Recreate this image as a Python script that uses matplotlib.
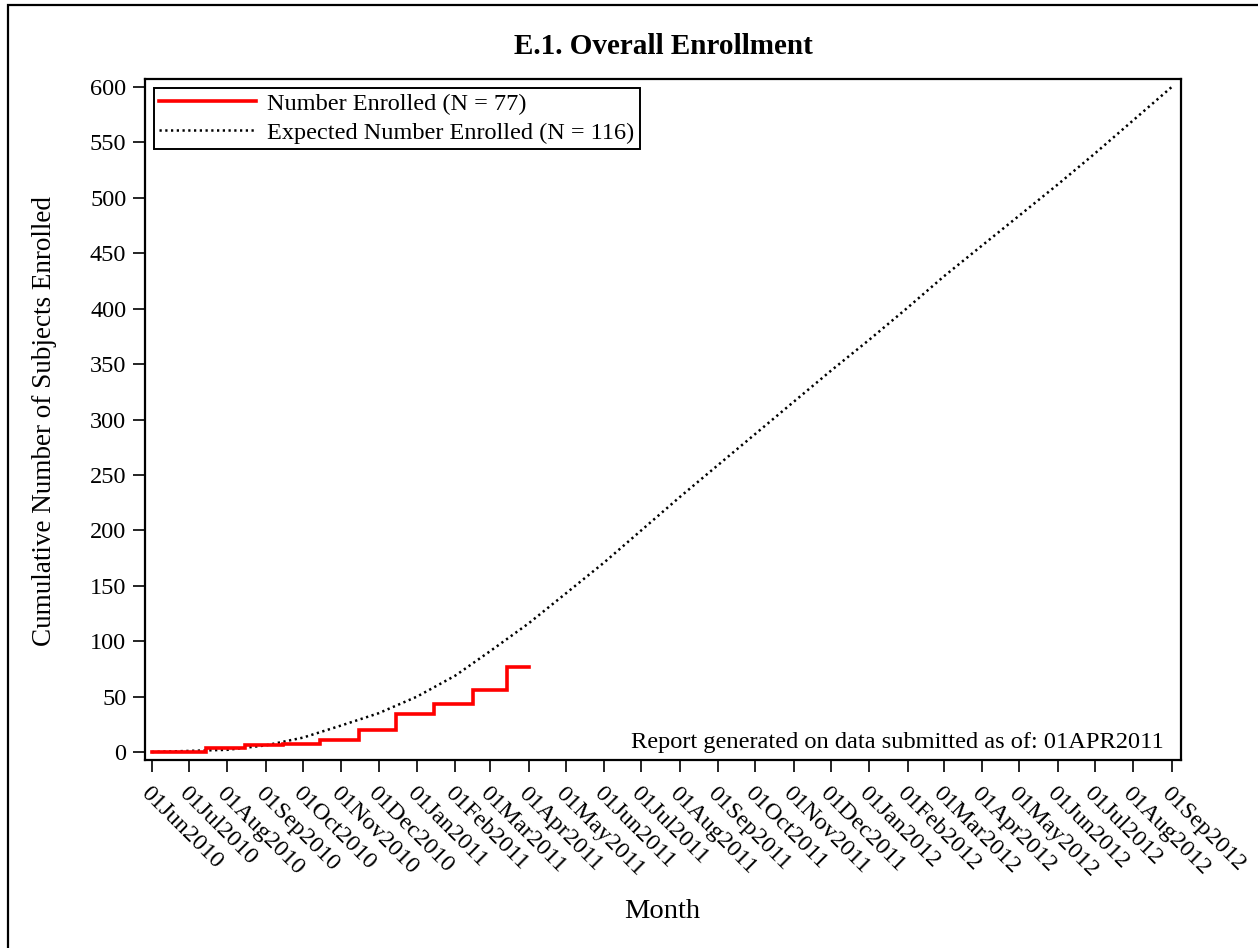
import datetime as dt
import matplotlib
matplotlib.use("Agg")
import matplotlib.pyplot as plt
import matplotlib.dates as mdates
from matplotlib.patches import Rectangle

plt.rcParams['font.family'] = ['Liberation Serif', 'DejaVu Serif']

# Actual enrollment (step at mid-month)
enrolled_dates = ["2010-06-01", "2010-07-15", "2010-08-15", "2010-09-15", "2010-10-15",
                  "2010-11-15", "2010-12-15", "2011-01-15", "2011-02-15", "2011-03-15",
                  "2011-04-01"]
enrolled_values = [0, 4, 6, 7, 11, 20, 34, 43, 56, 77, 77]

# Expected enrollment (monthly)
expected_dates = ["2010-06-01", "2010-07-01", "2010-08-01", "2010-09-01", "2010-10-01",
                  "2010-11-01", "2010-12-01", "2011-01-01", "2011-02-01", "2011-03-01",
                  "2011-04-01", "2011-05-01", "2011-06-01", "2011-07-01", "2011-08-01",
                  "2011-09-01", "2011-10-01", "2011-11-01", "2011-12-01", "2012-01-01",
                  "2012-02-01", "2012-03-01", "2012-04-01", "2012-05-01", "2012-06-01",
                  "2012-07-01", "2012-08-01", "2012-09-01"]
expected_values = [0, 1, 2, 6, 13, 24, 35, 50, 69, 91, 116, 143, 171, 200, 230,
                   259, 287, 316, 344, 372, 401, 429, 457, 484, 512, 540, 570, 600]

y_ticks = list(range(0, 601, 50))

def to_dt(s):
    return dt.datetime.strptime(s, "%Y-%m-%d")

ed = [to_dt(s) for s in enrolled_dates]
xd = [to_dt(s) for s in expected_dates]

W, H = 1258, 948
fig = plt.figure(figsize=(W / 100, H / 100), dpi=100)
ax = fig.add_axes([145 / W, (H - 760) / H, (1181 - 145) / W, (760 - 79) / H])

ax.plot(ed, enrolled_values, drawstyle='steps-post', color='#ff0000', lw=2.6,
        label='Number Enrolled (N = 77)', solid_joinstyle='miter', zorder=3)
ax.plot(xd, expected_values, color='black', lw=1.8, linestyle=(0, (0.9, 1.4)),
        label='Expected Number Enrolled (N = 116)', zorder=2)

ax.set_xlim(xd[0] - dt.timedelta(days=5.5), xd[-1] + dt.timedelta(days=7.5))
ax.set_ylim(-7.2, 607.2)
ax.set_yticks(y_ticks)
ax.set_xticks(xd)
ax.xaxis.set_major_formatter(mdates.DateFormatter('%d%b%Y'))

for s in ax.spines.values():
    s.set_linewidth(1.6)
ax.tick_params(axis='both', direction='out', length=8.5, width=1.2, labelsize=17.5,
               colors='black')
ax.tick_params(axis='x', pad=8)
ax.tick_params(axis='y', pad=5)
for lab in ax.get_xticklabels():
    lab.set_rotation(-45)
    lab.set_ha('left')
    lab.set_va('top')
    lab.set_rotation_mode('anchor')

ax.set_ylabel('Cumulative Number of Subjects Enrolled', fontsize=19.5, va='center')
ax.set_xlabel('Month', fontsize=20.5, va='center')
ax.xaxis.set_label_coords((662 - 145) / (1181 - 145), -(912 - 760) / (760 - 79))
ax.yaxis.set_label_coords(-(145 - 45) / (1181 - 145), (760 - 421) / (760 - 79))

fig.text(663 / W, 1 - 46 / H, 'E.1. Overall Enrollment', ha='center', va='center',
         fontsize=21, fontweight='bold')

ax.text(0.9835, 0.011, 'Report generated on data submitted as of: 01APR2011',
        transform=ax.transAxes, ha='right', va='bottom', fontsize=17.6)

leg = ax.legend(loc='upper left', fontsize=17.5, frameon=True, fancybox=False,
                edgecolor='black', framealpha=1, handlelength=4.0, handletextpad=0.45,
                borderpad=0.22, labelspacing=0.28, borderaxespad=0.35)
leg.get_frame().set_linewidth(1.4)

fig.add_artist(Rectangle((8 / W, -0.1), 1.2, (H - 5) / H + 0.1, transform=fig.transFigure,
                         fill=False, lw=1.6, edgecolor='black'))

fig.savefig('out.png', dpi=100)
